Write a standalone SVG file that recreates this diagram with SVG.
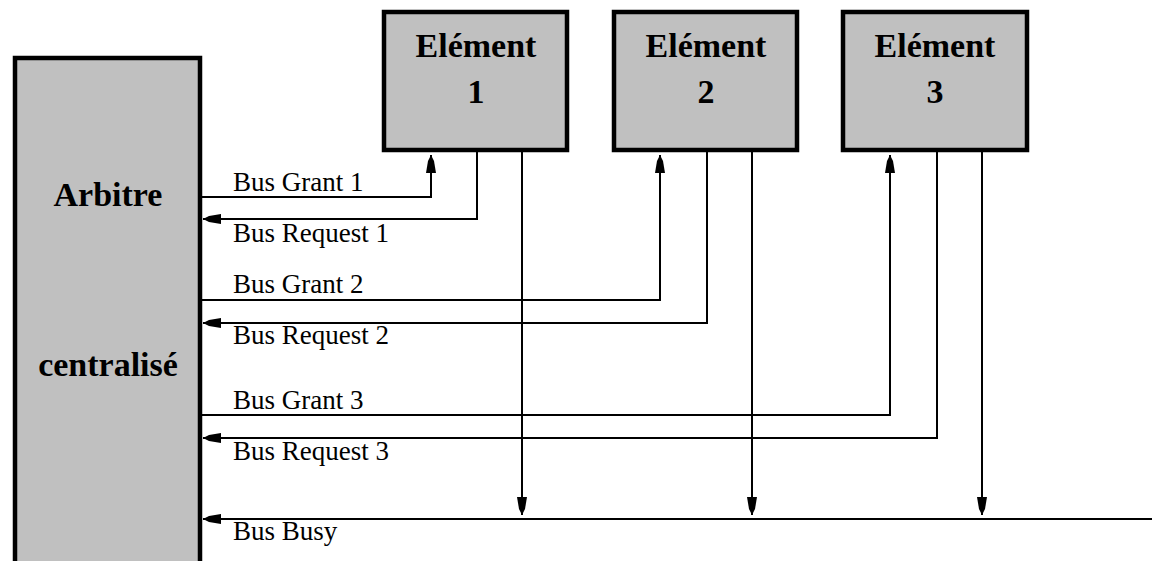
<svg xmlns="http://www.w3.org/2000/svg" width="1152" height="561" viewBox="0 0 1152 561">
<style>
.box{fill:#c0c0c0;stroke:#000;stroke-width:4.5}
.title{font-family:"Liberation Serif","Times New Roman",serif;font-weight:bold;font-size:34px;fill:#000;text-anchor:middle}
.lbl{font-family:"Liberation Serif","Times New Roman",serif;font-size:27px;fill:#000}
.wire{fill:none;stroke:#000;stroke-width:2}
</style>
<defs>
<marker id="ah" markerUnits="userSpaceOnUse" markerWidth="24" markerHeight="14" viewBox="-20 -7 22 14" refX="0" refY="0" orient="auto">
<path d="M0,0 L-6,-3 L-18,-5 L-18,5 L-6,3 Z" fill="#000"/>
</marker>
</defs>
<rect width="1152" height="561" fill="#fff"/>
<g id="arbitre">
<rect class="box" x="15" y="58" width="185" height="520"/>
<text class="title" x="108" y="206">Arbitre</text>
<text class="title" x="108" y="376">centralisé</text>
</g>
<g id="element1">
<rect class="box" x="384" y="12" width="183" height="138"/>
<text class="title" x="476" y="57">Elément</text>
<text class="title" x="476" y="103">1</text>
</g>
<g id="element2">
<rect class="box" x="614" y="12" width="183" height="138"/>
<text class="title" x="706" y="57">Elément</text>
<text class="title" x="706" y="103">2</text>
</g>
<g id="element3">
<rect class="box" x="843" y="12" width="184" height="138"/>
<text class="title" x="935" y="57">Elément</text>
<text class="title" x="935" y="103">3</text>
</g>
<g id="connectors">
<path class="wire" d="M200,197 H431 V155" marker-end="url(#ah)"/>
<path class="wire" d="M477,152 V219 H203" marker-end="url(#ah)"/>
<path class="wire" d="M522,152 V515" marker-end="url(#ah)"/>
<path class="wire" d="M200,300 H660 V155" marker-end="url(#ah)"/>
<path class="wire" d="M707,152 V323 H203" marker-end="url(#ah)"/>
<path class="wire" d="M752,152 V515" marker-end="url(#ah)"/>
<path class="wire" d="M200,415 H890 V155" marker-end="url(#ah)"/>
<path class="wire" d="M937,152 V438 H203" marker-end="url(#ah)"/>
<path class="wire" d="M982,152 V515" marker-end="url(#ah)"/>
<path class="wire" d="M1152,519 H203" marker-end="url(#ah)"/>
</g>
<g id="labels">
<text class="lbl" x="233" y="191">Bus Grant 1</text>
<text class="lbl" x="233" y="242">Bus Request 1</text>
<text class="lbl" x="233" y="293">Bus Grant 2</text>
<text class="lbl" x="233" y="344">Bus Request 2</text>
<text class="lbl" x="233" y="409">Bus Grant 3</text>
<text class="lbl" x="233" y="460">Bus Request 3</text>
<text class="lbl" x="233" y="540">Bus Busy</text>
</g>
</svg>
